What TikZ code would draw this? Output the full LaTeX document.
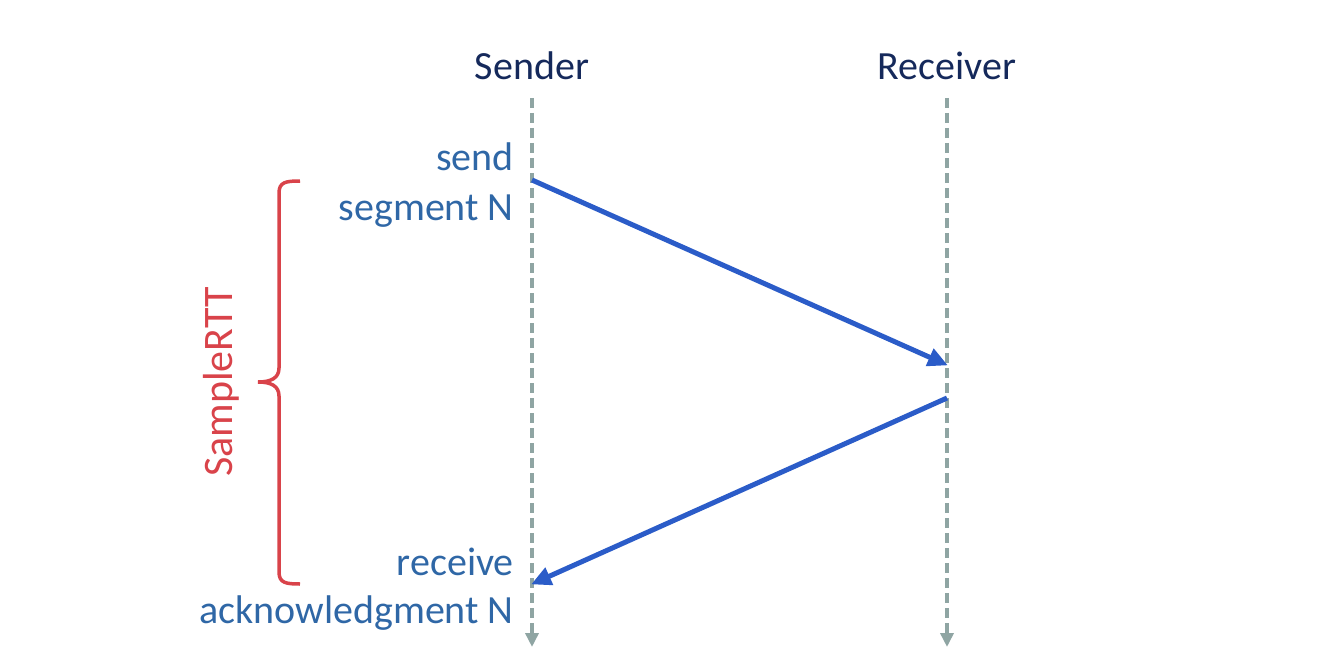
\documentclass[tikz,border=0pt]{standalone}
\usepackage{fontspec}
\setmainfont{Carlito}
\usetikzlibrary{arrows.meta}
\definecolor{navy}{HTML}{15295B}
\definecolor{lblblue}{HTML}{2F67A6}
\definecolor{arrblue}{HTML}{2B5CC8}
\definecolor{lifegray}{HTML}{8FA5A3}
\definecolor{bracered}{HTML}{D9434A}
\tikzset{
  header/.style={text=navy, font=\fontsize{40}{48}\selectfont, inner sep=0pt, anchor=base},
  evlabel/.style={text=lblblue, font=\fontsize{40}{48}\selectfont, inner sep=0pt, anchor=base east},
  lifeline/.style={draw=lifegray, line width=3.5pt, dash pattern=on 10pt off 5pt, -{Triangle[length=14pt,width=13pt]}},
  msg/.style={draw=arrblue, line width=5pt, -{Triangle[length=20pt,width=18pt]}, shorten >=-1pt},
  rttbrace/.style={draw=bracered, line width=3.5pt},
  rttlabel/.style={text=bracered, font=\fontsize{42}{50}\selectfont, inner sep=0pt, rotate=90, anchor=base}
}
\begin{document}
\begin{tikzpicture}[x=1pt,y=-1pt]
\useasboundingbox (0,0) rectangle (1322,658);
% headers
\node[header] (sender) at (532,80) {Sender};
\node[header] (receiver) at (947,80) {Receiver};
% lifelines
\coordinate (s0) at (532,98);
\coordinate (s1) at (532,647);
\coordinate (r0) at (947,98);
\coordinate (r1) at (947,647);
\draw[lifeline] (s0) -- (s1);
\draw[lifeline] (r0) -- (r1);
% events
\coordinate (sendpt) at (532,180);
\coordinate (recvpt) at (947,365);
\coordinate (ackpt) at (947,398);
\coordinate (backpt) at (532,584);
\draw[msg] (sendpt) -- (recvpt);
\draw[msg] (ackpt) -- (backpt);
% labels
\node[evlabel] (send1) at (514,170) {send};
\node[evlabel] (send2) at (514,220) {segment N};
\node[evlabel] (recv1) at (514,575) {receive};
\node[evlabel] (recv2) at (514,623) {acknowledgment N};
% brace
\draw[rttbrace] (300,181) .. controls (286,181) and (279,182) .. (279,193)
  -- (279,368) .. controls (279,378) and (271,382) .. (258,382)
  .. controls (271,382) and (279,386) .. (279,396)
  -- (279,572) .. controls (279,583) and (286,584) .. (300,584);
\node[rttlabel] (rtt) at (232,382) {SampleRTT};
\end{tikzpicture}
\end{document}
